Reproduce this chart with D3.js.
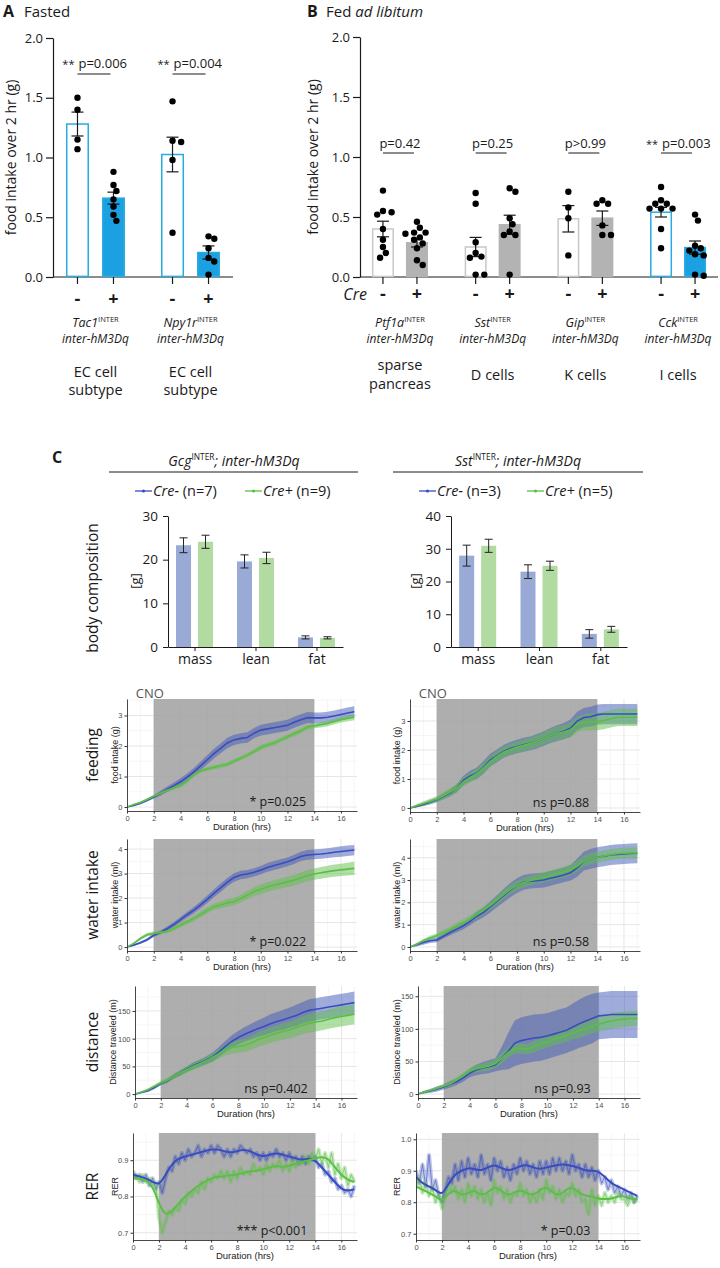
<!DOCTYPE html>
<html><head><meta charset="utf-8">
<script src="https://cdn.jsdelivr.net/npm/d3@7"></script>
<style>body{margin:0;background:#fff}svg{display:block}</style>
</head><body><script>
// ---------------- DATA ----------------
const creLevels = ["-","+"];
const barTicks = [0,0.5,1.0,1.5,2.0];
// Panel A (fasted)
const aGenes = ["Tac1","Npy1r"];
const aMean = [[1.28,0.66],[1.025,0.205]];
const aSem  = [[0.10,0.05],[0.145,0.055]];
const aDots = [[[1.50,1.40,1.15,1.07],[0.88,0.77,0.72,0.65,0.59,0.52,0.47]],
               [[1.47,1.14,1.13,0.98,0.37],[0.34,0.32,0.24,0.16,0.13,0.02]]];
const aP = ["p=0.006","p=0.004"];
const aStars = ["**","**"];
const aCells = [["EC cell","subtype"],["EC cell","subtype"]];
const aHighlight = [true,true];
// Panel B (fed ad libitum)
const bGenes = ["Ptf1a","Sst","Gip","Cck"];
const bMean = [[0.40,0.285],[0.25,0.435],[0.485,0.49],[0.54,0.245]];
const bSem  = [[0.065,0.035],[0.08,0.08],[0.11,0.06],[0.04,0.055]];
const bDots = [[[0.72,0.55,0.54,0.52,0.40,0.31,0.25,0.20,0.16],[0.46,0.41,0.37,0.37,0.36,0.33,0.31,0.28,0.24,0.14,0.10]],
               [[0.70,0.61,0.29,0.20,0.17,0.16,0.02,0.02],[0.74,0.71,0.49,0.44,0.38,0.35,0.35,0.02]],
               [[0.71,0.58,0.49,0.18],[0.64,0.61,0.61,0.43,0.35,0.35]],
               [[0.75,0.64,0.61,0.61,0.57,0.57,0.57,0.40,0.24],[0.52,0.47,0.26,0.24,0.22,0.19,0.18,0.02,0.01]]];
const bP = ["p=0.42","p=0.25","p>0.99","p=0.003"];
const bStars = ["","","","**"];
const bCells = [["sparse","pancreas"],["D cells"],["K cells"],["I cells"]];
const bHighlight = [false,false,false,true];
// Panel C body composition
const bcCats = ["mass","lean","fat"];
const bcGcgNeg = [23.3,19.6,2.2], bcGcgNegSe = [1.7,1.5,0.35];
const bcGcgPos = [24.1,20.4,2.1], bcGcgPosSe = [1.5,1.3,0.25];
const bcSstNeg = [27.9,23.0,4.0], bcSstNegSe = [3.2,2.1,1.3];
const bcSstPos = [30.9,24.8,5.4], bcSstPosSe = [2.0,1.4,0.9];
const bcGcgTicks = [0,10,20,30], bcSstTicks = [0,10,20,30,40];
// time series (hours)
const hrs = [0,0.5,1,1.5,2,2.5,3,3.5,4,4.5,5,5.5,6,6.5,7,7.5,8,8.5,9,9.5,10,10.5,11,11.5,12,12.5,13,13.5,14,14.5,15,15.5,16,16.5,17];
const hrsFine = [0,0.25,0.5,0.75,1,1.25,1.5,1.75,2,2.25,2.5,2.75,3,3.25,3.5,3.75,4,4.25,4.5,4.75,5,5.25,5.5,5.75,6,6.25,6.5,6.75,7,7.25,7.5,7.75,8,8.25,8.5,8.75,9,9.25,9.5,9.75,10,10.25,10.5,10.75,11,11.25,11.5,11.75,12,12.25,12.5,12.75,13,13.25,13.5,13.75,14,14.25,14.5,14.75,15,15.25,15.5,15.75,16,16.25,16.5,16.75,17];
const hrTicks = [0,2,4,6,8,10,12,14,16];
const hrMinor = [1,3,5,7,9,11,13,15,17];
const cnoWindow = [2,14];
const feedGcgNeg = [0,0.05,0.12,0.22,0.33,0.45,0.58,0.70,0.83,0.98,1.15,1.35,1.55,1.75,1.92,2.10,2.20,2.25,2.28,2.42,2.52,2.56,2.60,2.64,2.68,2.78,2.86,2.93,2.92,2.92,2.94,2.98,3.03,3.08,3.12];
const feedGcgNegSe = [0,0.02,0.04,0.05,0.06,0.08,0.09,0.10,0.11,0.12,0.13,0.14,0.15,0.16,0.16,0.17,0.17,0.17,0.17,0.17,0.18,0.18,0.18,0.18,0.18,0.18,0.18,0.18,0.18,0.18,0.18,0.18,0.18,0.18,0.18];
const feedGcgPos = [0,0.08,0.15,0.25,0.35,0.45,0.55,0.62,0.70,0.85,1.05,1.18,1.25,1.30,1.35,1.40,1.50,1.60,1.70,1.82,1.95,2.03,2.10,2.20,2.30,2.40,2.50,2.62,2.66,2.70,2.74,2.80,2.86,2.90,2.94];
const feedGcgPosSe = [0,0.02,0.03,0.04,0.05,0.05,0.05,0.06,0.06,0.06,0.06,0.06,0.06,0.07,0.07,0.07,0.07,0.07,0.07,0.07,0.08,0.08,0.08,0.08,0.08,0.08,0.08,0.08,0.08,0.09,0.09,0.09,0.09,0.09,0.10];
const waterGcgNeg = [0,0.08,0.18,0.30,0.48,0.60,0.75,0.92,1.12,1.32,1.51,1.72,1.95,2.19,2.42,2.65,2.84,2.94,2.98,3.05,3.14,3.25,3.33,3.40,3.48,3.58,3.70,3.76,3.78,3.80,3.83,3.87,3.90,3.93,3.96];
const waterGcgNegSe = [0,0.03,0.05,0.06,0.07,0.08,0.09,0.10,0.11,0.12,0.13,0.14,0.15,0.16,0.17,0.17,0.17,0.17,0.17,0.17,0.17,0.18,0.18,0.18,0.18,0.19,0.19,0.20,0.20,0.20,0.20,0.20,0.21,0.21,0.21];
const waterGcgPos = [0,0.15,0.35,0.50,0.56,0.60,0.64,0.75,0.90,1.03,1.17,1.33,1.50,1.65,1.72,1.80,1.86,1.98,2.12,2.26,2.36,2.45,2.53,2.60,2.66,2.73,2.82,2.92,2.98,3.03,3.08,3.12,3.15,3.18,3.21];
const waterGcgPosSe = [0,0.04,0.06,0.07,0.08,0.08,0.08,0.09,0.10,0.10,0.11,0.12,0.13,0.13,0.14,0.15,0.15,0.16,0.17,0.18,0.19,0.20,0.20,0.21,0.21,0.22,0.22,0.23,0.23,0.24,0.24,0.25,0.25,0.26,0.27];
const distGcgNeg = [0,3,6,12,19,24,32,38,45,51,56,61,67,76,86,95,102,108,113,118,122,127,131,134,138,142,147,151,153,155,157,159,161,163,165];
const distGcgNegSe = [0,1,2,3,3,4,4,5,5,6,6,7,8,9,10,11,12,13,14,15,16,17,17,18,18,19,19,20,20,20,20,20,20,20,20];
const distGcgPos = [0,4,8,14,20,25,32,38,44,50,55,60,66,73,80,84,86,88,92,98,102,106,110,113,116,120,124,128,130,132,135,138,140,142,144];
const distGcgPosSe = [0,1,2,3,4,4,5,5,6,6,7,7,8,9,10,11,11,12,12,13,13,14,14,15,15,16,16,17,17,17,17,18,18,18,18];
const rerGcgNeg = [0.86,0.855,0.85,0.84,0.83,0.86,0.89,0.905,0.91,0.915,0.92,0.925,0.93,0.93,0.925,0.92,0.925,0.93,0.925,0.915,0.91,0.915,0.92,0.915,0.91,0.905,0.90,0.905,0.90,0.88,0.86,0.84,0.82,0.815,0.82];
const rerGcgPos = [0.85,0.85,0.845,0.83,0.78,0.745,0.76,0.78,0.80,0.815,0.83,0.84,0.85,0.855,0.855,0.86,0.86,0.865,0.87,0.87,0.875,0.88,0.885,0.88,0.885,0.89,0.895,0.90,0.905,0.91,0.905,0.88,0.86,0.845,0.84];
const rerGcgNegRaw = [0.87,0.85,0.86,0.84, 0.86,0.83,0.85,0.82, 0.84,0.81,0.85,0.88, 0.87,0.91,0.89,0.92, 0.90,0.93,0.91,0.92, 0.94,0.91,0.93,0.92, 0.94,0.92,0.94,0.93, 0.91,0.93,0.91,0.93, 0.92,0.94,0.93,0.92, 0.93,0.91,0.92,0.90, 0.92,0.90,0.92,0.91, 0.93,0.91,0.92,0.90, 0.92,0.90,0.91,0.89, 0.91,0.89,0.91,0.90, 0.91,0.88,0.89,0.86, 0.87,0.84,0.85,0.82, 0.83,0.81,0.82,0.80, 0.83];
const rerGcgPosRaw = [0.85,0.86,0.84,0.86, 0.84,0.85,0.83,0.84, 0.74,0.70,0.73,0.76, 0.75,0.77,0.76,0.79, 0.78,0.81,0.80,0.82, 0.81,0.84,0.82,0.85, 0.84,0.86,0.85,0.87, 0.85,0.87,0.84,0.87, 0.85,0.88,0.86,0.87, 0.86,0.89,0.87,0.88, 0.86,0.89,0.87,0.89, 0.88,0.90,0.87,0.89, 0.87,0.90,0.88,0.90, 0.89,0.91,0.89,0.92, 0.90,0.93,0.89,0.92, 0.88,0.92,0.86,0.89, 0.85,0.88,0.83,0.86, 0.84];
const feedSstNeg = [0,0.05,0.12,0.20,0.28,0.40,0.52,0.68,0.95,1.10,1.20,1.40,1.65,1.80,1.95,2.05,2.12,2.18,2.23,2.30,2.40,2.50,2.58,2.65,2.75,3.00,3.12,3.15,3.22,3.24,3.24,3.24,3.24,3.24,3.24];
const feedSstNegSe = [0,0.03,0.05,0.07,0.08,0.10,0.12,0.14,0.16,0.18,0.20,0.22,0.22,0.22,0.22,0.23,0.23,0.24,0.24,0.25,0.25,0.26,0.27,0.28,0.30,0.32,0.33,0.34,0.35,0.35,0.35,0.35,0.35,0.35,0.35];
const feedSstPos = [0,0.08,0.15,0.22,0.30,0.42,0.55,0.68,0.90,1.05,1.18,1.38,1.60,1.78,1.92,2.02,2.10,2.16,2.22,2.30,2.40,2.50,2.58,2.62,2.70,2.88,2.95,2.97,2.98,3.02,3.08,3.12,3.13,3.13,3.13];
const feedSstPosSe = [0,0.05,0.08,0.10,0.10,0.12,0.14,0.15,0.16,0.17,0.18,0.18,0.19,0.19,0.20,0.20,0.20,0.21,0.21,0.22,0.22,0.23,0.24,0.25,0.26,0.27,0.28,0.29,0.30,0.30,0.30,0.30,0.30,0.30,0.30];
const waterSstNeg = [0,0.10,0.20,0.28,0.31,0.48,0.65,0.80,0.95,1.15,1.38,1.55,1.80,2.05,2.30,2.55,2.75,2.90,2.95,2.97,3.00,3.08,3.15,3.23,3.33,3.55,3.85,3.95,4.02,4.07,4.12,4.15,4.17,4.19,4.20];
const waterSstNegSe = [0,0.08,0.10,0.10,0.10,0.10,0.12,0.14,0.15,0.17,0.20,0.22,0.25,0.27,0.30,0.32,0.33,0.33,0.33,0.33,0.33,0.33,0.33,0.33,0.35,0.40,0.42,0.44,0.45,0.45,0.45,0.45,0.45,0.45,0.45];
const waterSstPos = [0,0.12,0.28,0.40,0.50,0.65,0.78,0.95,1.10,1.25,1.45,1.65,1.85,2.10,2.35,2.58,2.75,2.88,2.98,3.05,3.12,3.20,3.28,3.36,3.45,3.62,3.85,3.95,4.02,4.08,4.14,4.18,4.20,4.21,4.22];
const waterSstPosSe = [0,0.05,0.08,0.10,0.10,0.12,0.13,0.14,0.15,0.16,0.17,0.18,0.19,0.20,0.20,0.21,0.21,0.22,0.22,0.22,0.23,0.23,0.23,0.24,0.24,0.25,0.25,0.25,0.25,0.25,0.25,0.25,0.25,0.25,0.25];
const distSstNeg = [0,3,5,8,11,15,19,25,32,37,40,42,45,55,66,78,82,84,86,87,89,92,95,98,103,108,112,116,120,121,122,122,122,122,122];
const distSstNegSe = [0,2,3,4,4,5,5,6,6,8,9,10,10,18,28,35,36,36,36,36,35,35,35,35,36,37,38,38,36,36,36,36,36,36,36];
const distSstPos = [0,3,6,9,12,16,22,28,35,39,41,43,47,55,64,70,70,69,73,77,80,84,87,90,94,97,101,104,107,110,112,114,115,116,116];
const distSstPosSe = [0,2,2,3,3,4,4,5,5,6,6,7,7,8,8,8,8,8,9,9,9,9,10,10,10,11,11,11,11,12,12,12,12,12,12];
const rerSstNeg = [0.88,0.86,0.85,0.84,0.82,0.86,0.89,0.90,0.91,0.905,0.90,0.91,0.92,0.91,0.90,0.905,0.915,0.92,0.91,0.905,0.91,0.915,0.92,0.92,0.915,0.91,0.90,0.90,0.90,0.88,0.86,0.85,0.84,0.83,0.82];
const rerSstPos = [0.85,0.84,0.83,0.82,0.80,0.83,0.84,0.82,0.83,0.84,0.82,0.83,0.85,0.84,0.82,0.83,0.84,0.83,0.82,0.84,0.85,0.83,0.82,0.84,0.85,0.83,0.82,0.82,0.81,0.81,0.81,0.82,0.82,0.81,0.81];
const rerSstNegRaw = [0.90,0.86,0.92,0.85, 0.95,0.84,0.87,0.82, 0.80,0.84,0.88,0.86, 0.92,0.87,0.93,0.88, 0.94,0.89,0.92,0.88, 0.95,0.89,0.92,0.87, 0.94,0.90,0.93,0.88, 0.91,0.87,0.92,0.89, 0.94,0.90,0.93,0.89, 0.92,0.88,0.93,0.89, 0.93,0.89,0.94,0.90, 0.94,0.90,0.93,0.89, 0.95,0.90,0.92,0.88, 0.92,0.88,0.91,0.87, 0.90,0.86,0.88,0.84, 0.87,0.83,0.85,0.82, 0.84,0.81,0.83,0.80, 0.82];
const rerSstPosRaw = [0.85,0.88,0.83,0.86, 0.82,0.85,0.80,0.83, 0.78,0.82,0.86,0.83, 0.85,0.81,0.84,0.80, 0.86,0.82,0.85,0.81, 0.84,0.80,0.83,0.79, 0.87,0.83,0.85,0.81, 0.84,0.80,0.83,0.82, 0.86,0.82,0.84,0.80, 0.83,0.80,0.84,0.81, 0.87,0.83,0.85,0.81, 0.84,0.80,0.83,0.82, 0.86,0.82,0.84,0.80, 0.81,0.76,0.84,0.79, 0.82,0.79,0.83,0.80, 0.82,0.80,0.83,0.81, 0.81,0.79,0.82,0.80, 0.81];

// ---------------- STYLE ----------------
const SANS = "'Open Sans', sans-serif";
const GG = "'Liberation Sans', Arial, sans-serif";
const INK = "#1a1a1a";
const CYAN = "#1ba1e2", CYAN_S = "#29abe2", GRAYF = "#b3b3b3", GRAYS = "#c8c8c8";
const BC_BLUE = "#9aaad6", BC_GREEN = "#b2dba2";
const L_BLUE = "#3a4cc0", L_GREEN = "#5bbf45", F_BLUE = "#4058b8", F_GREEN = "#5fbf4a";

const svg = d3.select("body").append("svg").attr("width",720).attr("height",1268);

function addText(g,x,y,str,o={}){
  const t=g.append("text").attr("x",x).attr("y",y).text(str)
    .attr("font-family",o.ff||SANS).attr("font-size",o.fs||13).attr("fill",o.fill||INK)
    .attr("text-anchor",o.anchor||"start");
  if(o.fw) t.attr("font-weight",o.fw);
  if(o.fst) t.attr("font-style",o.fst);
  if(o.rot) t.attr("transform",`rotate(${o.rot},${x},${y})`);
  return t;
}
function geneText(g,x,y,gene,rest,fs,anchor){
  const t=g.append("text").attr("x",x).attr("y",y).attr("text-anchor",anchor||"middle")
    .attr("font-family",SANS).attr("font-size",fs).attr("fill",INK);
  t.append("tspan").attr("font-style","italic").text(gene);
  t.append("tspan").attr("font-size",fs*0.6).attr("dy",-fs*0.4).text("INTER");
  if(rest) t.append("tspan").attr("font-style","italic").attr("dy",fs*0.4).text(rest);
  return t;
}
function swarm(vals,y,r){
  const placed=[];
  vals.slice().sort((a,b)=>b-a).forEach(v=>{
    const py=y(v); const cands=[0];
    for(let i=1;i<12;i++){cands.push(i*r*0.9,-i*r*0.9);}
    let dx=0;
    for(const c of cands){ if(placed.every(p=>Math.hypot(p.dx-c,p.py-py)>=2*r-0.2)){dx=c;break;} }
    placed.push({v,dx,py});
  });
  return placed;
}

// ---------------- BAR PANELS (A, B) ----------------
function barPanel(c){
  const g=svg.append("g");
  const y=d3.scaleLinear().domain([0,2]).range([c.y0,c.y1]);
  const gx=d3.scalePoint().domain(c.genes).range([c.axL,c.axR]).padding(c.pad);
  const ix=d3.scalePoint().domain(creLevels).range([-c.half,c.half]);
  const ya=d3.axisLeft(y).tickValues(barTicks).tickFormat(d3.format(".1f")).tickSize(7).tickSizeOuter(0).tickPadding(3);
  const yg=g.append("g").attr("transform",`translate(${c.axL},0)`).call(ya);
  yg.select(".domain").attr("stroke",INK).attr("stroke-width",1.2);
  yg.selectAll(".tick line").attr("stroke",INK).attr("stroke-width",1.2);
  yg.selectAll("text").attr("font-family",SANS).attr("font-size",13).attr("fill",INK);
  g.append("line").attr("x1",c.axL).attr("x2",c.axR).attr("y1",y(0)).attr("y2",y(0)).attr("stroke",INK).attr("stroke-width",1.2);
  addText(g,c.ylx,(c.y0+c.y1)/2,"food intake over 2 hr (g)",{fs:14,anchor:"middle",rot:-90});
  c.genes.forEach((gene,gi)=>{
    const hl=c.highlight[gi];
    creLevels.forEach((lv,ci)=>{
      const cx=gx(gene)+ix(lv), m=c.mean[gi][ci], s=c.sem[gi][ci];
      const fill = ci===0 ? "#fff" : (hl?CYAN:GRAYF);
      const stroke = hl ? CYAN_S : (ci===0?GRAYS:GRAYF);
      g.append("rect").attr("x",cx-c.bw/2+0.75).attr("y",y(m)).attr("width",c.bw-1.5).attr("height",y(0)-y(m)-0.6)
        .attr("fill",fill).attr("stroke",stroke).attr("stroke-width",1.5);
      g.append("line").attr("x1",cx).attr("x2",cx).attr("y1",y(0)).attr("y2",y(0)+7).attr("stroke",INK).attr("stroke-width",1.2);
      addText(g,cx,c.pmY,lv,{fs:18,fw:700,anchor:"middle"});
      const eg=g.append("g").attr("stroke",INK).attr("stroke-width",1.2);
      eg.append("line").attr("x1",cx).attr("x2",cx).attr("y1",y(m-s)).attr("y2",y(m+s));
      [m-s,m+s].forEach(v=>eg.append("line").attr("x1",cx-6).attr("x2",cx+6).attr("y1",y(v)).attr("y2",y(v)));
      swarm(c.dots[gi][ci],y,3.2).forEach(d=>{
        g.append("circle").attr("cx",cx+d.dx).attr("cy",d.py).attr("r",3.2).attr("fill","#000");
      });
    });
    const xm=gx(gene)+ix("-"), xp=gx(gene)+ix("+");
    g.append("line").attr("x1",xm).attr("x2",xp-3).attr("y1",c.lineY).attr("y2",c.lineY).attr("stroke",INK).attr("stroke-width",1);
    if(c.stars[gi]){
      addText(g,xm+1,c.pY,c.p[gi],{fs:13});
      addText(g,xm-3,c.pY,c.stars[gi],{fs:11,anchor:"end"});
    } else {
      addText(g,gx(gene),c.pY,c.p[gi],{fs:13,anchor:"middle"});
    }
    geneText(g,gx(gene),327,gene,null,12.5);
    addText(g,gx(gene),343,"inter-hM3Dq",{fs:12,fst:"italic",anchor:"middle"});
    const cl=c.cells[gi];
    if(cl.length===2){
      addText(g,gx(gene),c.cellY1,cl[0],{fs:14.5,anchor:"middle"});
      addText(g,gx(gene),c.cellY2,cl[1],{fs:14.5,anchor:"middle"});
    } else addText(g,gx(gene),c.cellY0,cl[0],{fs:14.5,anchor:"middle"});
  });
  return g;
}
barPanel({genes:aGenes,mean:aMean,sem:aSem,dots:aDots,p:aP,stars:aStars,cells:aCells,highlight:aHighlight,
  axL:53,axR:233,pad:0.447,half:18,bw:23,y0:277,y1:38,ylx:16,pmY:305,lineY:74,pY:68,cellY1:377,cellY2:395,cellY0:380});
const gB=barPanel({genes:bGenes,mean:bMean,sem:bSem,dots:bDots,p:bP,stars:bStars,cells:bCells,highlight:bHighlight,
  axL:360,axR:718,pad:0.431,half:17,bw:22,y0:277,y1:37,ylx:318,pmY:300,lineY:153,pY:148,cellY1:370,cellY2:389,cellY0:380});
addText(gB,367,300,"Cre",{fs:16,fst:"italic",anchor:"end"});
addText(svg,3,17,"A",{fs:16,fw:700});
addText(svg,24,17,"Fasted",{fs:15});
addText(svg,307,17,"B",{fs:16,fw:700});
{ const t=addText(svg,326,17,"Fed ",{fs:15}); t.append("tspan").attr("font-style","italic").text("ad libitum"); }
addText(svg,52,463,"C",{fs:16,fw:700});

// ---------------- BODY COMPOSITION ----------------
function bcPanel(c){
  const g=svg.append("g");
  geneText(g,c.titleX,466,c.gene,"; inter-hM3Dq",14);
  g.append("line").attr("x1",c.ruleL).attr("x2",c.ruleR).attr("y1",472).attr("y2",472).attr("stroke",INK).attr("stroke-width",1);
  [[c.legX[0],L_BLUE,"Cre-",c.nNeg],[c.legX[1],L_GREEN,"Cre+",c.nPos]].forEach(([lx,col,lab,n])=>{
    g.append("line").attr("x1",lx).attr("x2",lx+17).attr("y1",491).attr("y2",491).attr("stroke",col).attr("stroke-width",1.3);
    g.append("circle").attr("cx",lx+8.5).attr("cy",491).attr("r",1.6).attr("fill",col);
    const t=addText(g,lx+18,496,lab,{fs:14.5,fst:"italic"});
    t.append("tspan").attr("font-style","normal").text(` (n=${n})`);
  });
  const x=d3.scalePoint().domain(bcCats).range([c.left,c.right]).padding(0.435);
  const y=d3.scaleLinear().domain(c.yDom).range([647,516]);
  const off=d3.scalePoint().domain(["neg","pos"]).range([-11,11]);
  const series=[["neg",c.neg,c.negSe,BC_BLUE],["pos",c.pos,c.posSe,BC_GREEN]];
  series.forEach(([k,vals,se,col])=>{
    bcCats.forEach((cat,i)=>{
      const cx=x(cat)+off(k);
      g.append("rect").attr("x",cx-7.5).attr("width",15).attr("y",y(vals[i])).attr("height",y(0)-y(vals[i])).attr("fill",col);
    });
  });
  series.forEach(([k,vals,se])=>{
    bcCats.forEach((cat,i)=>{
      const cx=x(cat)+off(k);
      const eg=g.append("g").attr("stroke","#222").attr("stroke-width",1);
      eg.append("line").attr("x1",cx).attr("x2",cx).attr("y1",y(vals[i]-se[i])).attr("y2",y(vals[i]+se[i]));
      [vals[i]-se[i],vals[i]+se[i]].forEach(v=>eg.append("line").attr("x1",cx-4).attr("x2",cx+4).attr("y1",y(v)).attr("y2",y(v)));
    });
  });
  const ya=d3.axisLeft(y).tickValues(c.ticks).tickSize(5).tickSizeOuter(0).tickPadding(5);
  const yg=g.append("g").attr("transform",`translate(${c.left},0)`).call(ya);
  yg.select(".domain").attr("stroke",INK);
  yg.selectAll(".tick line").attr("stroke",INK);
  yg.selectAll("text").attr("font-family",SANS).attr("font-size",13.5).attr("fill",INK);
  const xa=d3.axisBottom(x).tickSize(4).tickSizeOuter(0).tickPadding(3);
  const xg=g.append("g").attr("transform",`translate(0,647)`).call(xa);
  xg.select(".domain").attr("stroke",INK);
  xg.selectAll(".tick line").attr("stroke",INK);
  xg.selectAll("text").attr("font-family",SANS).attr("font-size",14).attr("fill",INK);
  addText(g,c.glx,581,"[g]",{fs:13,anchor:"middle",rot:-90}).attr("dy","0.35em");
  if(c.rowLabel) addText(g,93,588,c.rowLabel,{fs:15.5,anchor:"middle",rot:-90}).attr("dy","0.35em");
}
bcPanel({gene:"Gcg",titleX:234,ruleL:109,ruleR:358,legX:[135,245],nNeg:7,nPos:9,left:168,right:343,yDom:[0,30],ticks:bcGcgTicks,
  neg:bcGcgNeg,negSe:bcGcgNegSe,pos:bcGcgPos,posSe:bcGcgPosSe,glx:135,rowLabel:"body composition"});
bcPanel({gene:"Sst",titleX:518,ruleL:393,ruleR:643,legX:[419,527],nNeg:3,nPos:5,left:451,right:627,yDom:[0,40],ticks:bcSstTicks,
  neg:bcSstNeg,negSe:bcSstNegSe,pos:bcSstPos,posSe:bcSstPosSe,glx:415});

// ---------------- TIME SERIES ----------------
let clipN=0;
function tsPanel(c){
  const g=svg.append("g");
  const x=d3.scaleLinear().domain([0,17.2]).range([c.left,c.right]);
  const y=d3.scaleLinear().domain(c.yDom).range([c.bottom,c.top]);
  const id="clip"+(clipN++);
  g.append("clipPath").attr("id",id).append("rect").attr("x",c.left).attr("y",c.top).attr("width",c.right-c.left).attr("height",c.bottom-c.top);
  const grid=g.append("g").attr("clip-path",`url(#${id})`);
  hrMinor.forEach(t=>grid.append("line").attr("x1",x(t)).attr("x2",x(t)).attr("y1",c.top).attr("y2",c.bottom).attr("stroke","#f0f0f0").attr("stroke-width",0.6));
  hrTicks.forEach(t=>grid.append("line").attr("x1",x(t)).attr("x2",x(t)).attr("y1",c.top).attr("y2",c.bottom).attr("stroke","#e6e6e6").attr("stroke-width",1));
  const yt=c.yTicks; const step=yt[1]-yt[0];
  yt.forEach(v=>{
    grid.append("line").attr("x1",c.left).attr("x2",c.right).attr("y1",y(v)).attr("y2",y(v)).attr("stroke","#e6e6e6").attr("stroke-width",1);
    grid.append("line").attr("x1",c.left).attr("x2",c.right).attr("y1",y(v+step/2)).attr("y2",y(v+step/2)).attr("stroke","#f0f0f0").attr("stroke-width",0.6);
  });
  g.append("rect").attr("x",x(cnoWindow[0])).attr("width",x(cnoWindow[1])-x(cnoWindow[0])).attr("y",c.top).attr("height",c.bottom-c.top)
    .attr("fill","#a0a0a0").attr("opacity",0.85);
  const plot=g.append("g").attr("clip-path",`url(#${id})`);
  c.series.forEach(s=>{
    if(!s.se) return;
    const pts=hrs.map((t,i)=>({t,m:s.mean[i],e:s.se[i]})).filter(d=>d.m!=null&&d.e!=null);
    plot.append("path").datum(pts).attr("d",d3.area().x(d=>x(d.t)).y0(d=>y(d.m-d.e)).y1(d=>y(d.m+d.e)))
      .attr("fill",s.fill).attr("fill-opacity",0.5);
  });
  // raw (noisy) traces, drawn as a soft halo plus a thin line
  c.series.forEach(s=>{
    if(!s.raw) return;
    const pts=hrsFine.map((t,i)=>({t,m:s.raw[i]})).filter(d=>d.m!=null);
    const ln=d3.line().x(d=>x(d.t)).y(d=>y(d.m));
    plot.append("path").datum(pts).attr("d",ln).attr("fill","none").attr("stroke",s.fill).attr("stroke-opacity",0.35).attr("stroke-width",4).attr("stroke-linejoin","round");
    plot.append("path").datum(pts).attr("d",ln).attr("fill","none").attr("stroke",s.line).attr("stroke-opacity",0.7).attr("stroke-width",0.8);
  });
  c.series.forEach(s=>{
    const pts=hrs.map((t,i)=>({t,m:s.mean[i]})).filter(d=>d.m!=null);
    plot.append("path").datum(pts).attr("d",d3.line().curve(s.raw?d3.curveBasis:d3.curveLinear).x(d=>x(d.t)).y(d=>y(d.m)))
      .attr("fill","none").attr("stroke",s.line).attr("stroke-width",s.raw?2:1.6);
  });
  const ya=d3.axisLeft(y).tickValues(c.yTicks).tickFormat(c.fmt||d3.format("d")).tickSize(2.5).tickSizeOuter(0).tickPadding(2);
  const yg=g.append("g").attr("transform",`translate(${c.left},0)`).call(ya);
  yg.select(".domain").attr("stroke","#333").attr("stroke-width",0.9);
  yg.selectAll(".tick line").attr("stroke","#333");
  yg.selectAll("text").attr("font-family",GG).attr("font-size",7.5).attr("fill","#4d4d4d");
  const xa=d3.axisBottom(x).tickValues(hrTicks).tickSize(2.5).tickSizeOuter(0).tickPadding(2);
  const xg=g.append("g").attr("transform",`translate(0,${c.bottom})`).call(xa);
  xg.select(".domain").attr("stroke","#333").attr("stroke-width",0.9);
  xg.selectAll(".tick line").attr("stroke","#333");
  xg.selectAll("text").attr("font-family",GG).attr("font-size",7.5).attr("fill","#4d4d4d");
  addText(g,(c.left+c.right)/2,c.bottom+19,"Duration (hrs)",{ff:GG,fs:9.5,anchor:"middle",fill:"#222"});
  addText(g,c.ytx,(c.top+c.bottom)/2,c.ytitle,{ff:GG,fs:9,anchor:"middle",rot:-90,fill:"#222"}).attr("dy","0.35em");
  addText(g,x(cnoWindow[1])-8,c.bottom-5,c.p,{fs:12.5,anchor:"end"});
  if(c.cno) addText(g,x(cnoWindow[0])-18,c.top-1,"CNO",{fs:13,fill:"#555"});
  if(c.rowLabel) addText(g,93,(c.top+c.bottom)/2,c.rowLabel,{fs:15.5,anchor:"middle",rot:-90}).attr("dy","0.35em");
}
const S = (neg,negSe,pos,posSe)=>[{mean:neg,se:negSe,line:L_BLUE,fill:F_BLUE},{mean:pos,se:posSe,line:L_GREEN,fill:F_GREEN}];
tsPanel({left:127,right:357,top:699,bottom:811,yDom:[-0.13,3.54],yTicks:[0,1,2,3],ytitle:"food intake (g)",ytx:115,
  series:S(feedGcgNeg,feedGcgNegSe,feedGcgPos,feedGcgPosSe),p:"* p=0.025",cno:true,rowLabel:"feeding"});
tsPanel({left:127,right:357,top:839,bottom:951,yDom:[-0.16,4.41],yTicks:[0,1,2,3,4],ytitle:"water intake (ml)",ytx:115,
  series:S(waterGcgNeg,waterGcgNegSe,waterGcgPos,waterGcgPosSe),p:"* p=0.022",rowLabel:"water intake"});
tsPanel({left:135,right:357,top:986,bottom:1098,yDom:[-7,195],yTicks:[0,50,100,150],ytitle:"Distance traveled (m)",ytx:113,
  series:S(distGcgNeg,distGcgNegSe,distGcgPos,distGcgPosSe),p:"ns p=0.402",rowLabel:"distance"});
tsPanel({left:133,right:357,top:1133,bottom:1240,yDom:[0.68,0.975],yTicks:[0.7,0.8,0.9],fmt:d3.format(".1f"),ytitle:"RER",ytx:115,
  series:[{mean:rerGcgNeg,raw:rerGcgNegRaw,line:L_BLUE,fill:F_BLUE},{mean:rerGcgPos,raw:rerGcgPosRaw,line:L_GREEN,fill:F_GREEN}],p:"*** p<0.001",rowLabel:"RER"});
tsPanel({left:410,right:640,top:699,bottom:812,yDom:[-0.14,3.76],yTicks:[0,1,2,3],ytitle:"food intake (g)",ytx:397,
  series:S(feedSstNeg,feedSstNegSe,feedSstPos,feedSstPosSe),p:"ns p=0.88",cno:true});
tsPanel({left:410,right:640,top:839,bottom:951,yDom:[-0.18,4.84],yTicks:[0,1,2,3,4],ytitle:"water intake (ml)",ytx:397,
  series:S(waterSstNeg,waterSstNegSe,waterSstPos,waterSstPosSe),p:"ns p=0.58"});
tsPanel({left:418,right:640,top:986,bottom:1098,yDom:[-6,165.8],yTicks:[0,50,100,150],ytitle:"Distance traveled (m)",ytx:397,
  series:S(distSstNeg,distSstNegSe,distSstPos,distSstPosSe),p:"ns p=0.93"});
tsPanel({left:416,right:640,top:1133,bottom:1240,yDom:[0.68,1.02],yTicks:[0.7,0.8,0.9,1.0],fmt:d3.format(".1f"),ytitle:"RER",ytx:397,
  series:[{mean:rerSstNeg,raw:rerSstNegRaw,line:L_BLUE,fill:F_BLUE},{mean:rerSstPos,raw:rerSstPosRaw,line:L_GREEN,fill:F_GREEN}],p:"* p=0.03"});
</script></body></html>
